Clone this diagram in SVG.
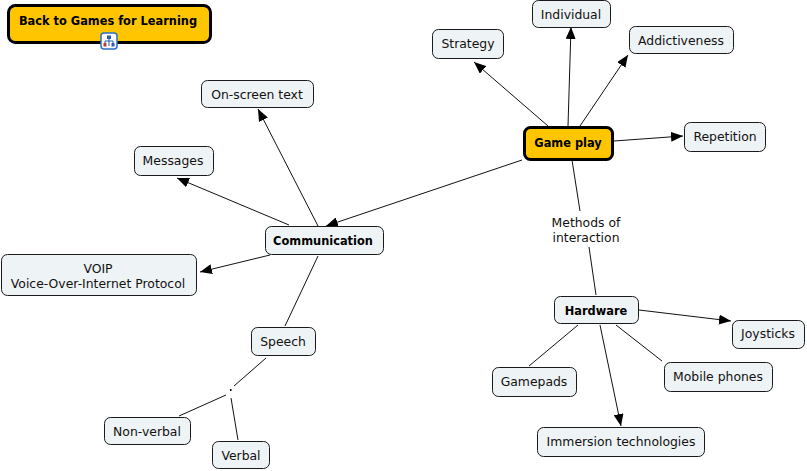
<svg xmlns="http://www.w3.org/2000/svg" width="807" height="471" viewBox="0 0 807 471">
<defs>
<style>
.n{fill:#eef3f5;stroke:#1a1a1a;stroke-width:1}
.k{fill:#ffc600;stroke:#000;stroke-width:3}
text{font-family:"DejaVu Sans",Verdana,sans-serif;font-size:12.4px;fill:#111;text-anchor:middle}
.b{font-weight:bold;fill:#000;font-size:11.4px}
.c line,.c path{stroke:#111;stroke-width:1;fill:none}
</style>
<marker id="a" viewBox="0 0 12 10" refX="12" refY="5" markerWidth="12" markerHeight="10" markerUnits="userSpaceOnUse" orient="auto">
<path d="M0,0 L12,5 L0,10 Z" fill="#000"/>
</marker>
</defs>
<rect width="807" height="471" fill="#fff"/>
<g class="c" id="connectors">
<line x1="548" y1="126" x2="474" y2="62" marker-end="url(#a)"/>
<line x1="568" y1="126" x2="571" y2="27" marker-end="url(#a)"/>
<line x1="580" y1="126" x2="628" y2="55" marker-end="url(#a)"/>
<line x1="614" y1="141" x2="683" y2="136" marker-end="url(#a)"/>
<line x1="522" y1="160" x2="326" y2="226" marker-end="url(#a)"/>
<line x1="572" y1="160" x2="580" y2="211"/>
<line x1="589" y1="247" x2="596" y2="295"/>
<line x1="318" y1="226" x2="258" y2="109" marker-end="url(#a)"/>
<line x1="289" y1="225" x2="177" y2="178" marker-end="url(#a)"/>
<line x1="270" y1="255" x2="200" y2="272" marker-end="url(#a)"/>
<line x1="318" y1="256" x2="285" y2="326"/>
<line x1="266" y1="358" x2="234" y2="386"/>
<line x1="226" y1="395" x2="179" y2="416"/>
<line x1="231" y1="398" x2="238" y2="440"/>
<rect x="230" y="389" width="1.5" height="2" fill="#000"/>
<line x1="639" y1="310" x2="731" y2="321" marker-end="url(#a)"/>
<line x1="578" y1="325" x2="529" y2="366"/>
<line x1="616" y1="325" x2="662" y2="361"/>
<line x1="600" y1="325" x2="621" y2="426" marker-end="url(#a)"/>
</g>
<g id="back">
<rect class="k" x="8.5" y="5.5" width="202" height="37" rx="7"/>
<text class="b" x="108" y="25">Back to Games for Learning</text>
<g id="icon">
<rect x="101" y="33" width="16" height="16" rx="3" fill="#fff" stroke="#2a6fc9" stroke-width="1.5"/>
<rect x="107" y="35.5" width="4" height="3.5" fill="#2a5db0"/>
<path d="M109 39 V41 M105 41 H113 M105 41 V43 M113 41 V43 M109 41 V46" stroke="#2a5db0" stroke-width="1"/>
<rect x="103.5" y="43" width="3" height="3.5" fill="#c0392b"/>
<rect x="111.5" y="43" width="3" height="3.5" fill="#2a5db0"/>
</g>
</g>
<g id="gameplay">
<rect class="k" x="524.5" y="127.5" width="88" height="32" rx="6"/>
<text class="b" x="568" y="147">Game play</text>
</g>
<g id="strategy"><rect class="n" x="432.5" y="29.5" width="71" height="29" rx="6"/><text x="468" y="48">Strategy</text></g>
<g id="individual"><rect class="n" x="532.5" y="0.5" width="78" height="27" rx="6"/><text x="571" y="19">Individual</text></g>
<g id="addictiveness"><rect class="n" x="629.5" y="26.5" width="104" height="27" rx="6"/><text x="681" y="45">Addictiveness</text></g>
<g id="repetition"><rect class="n" x="684.5" y="122.5" width="81" height="29" rx="6"/><text x="725" y="141">Repetition</text></g>
<g id="onscreen"><rect class="n" x="201.5" y="80.5" width="112" height="27" rx="6"/><text x="257" y="99">On-screen text</text></g>
<g id="messages"><rect class="n" x="134.5" y="146.5" width="79" height="29" rx="6"/><text x="173" y="165">Messages</text></g>
<g id="communication"><rect class="n" x="265.5" y="226.5" width="118" height="28" rx="6"/><text class="b" x="323" y="245">Communication</text></g>
<g id="voip"><rect class="n" x="1.5" y="254.5" width="195" height="41" rx="6"/><text x="98" y="273">VOIP</text><text x="98" y="288">Voice-Over-Internet Protocol</text></g>
<g id="speech"><rect class="n" x="251.5" y="327.5" width="64" height="28" rx="6"/><text x="283" y="346">Speech</text></g>
<g id="nonverbal"><rect class="n" x="104.5" y="417.5" width="86" height="27" rx="6"/><text x="147" y="436">Non-verbal</text></g>
<g id="verbal"><rect class="n" x="212.5" y="441.5" width="57" height="27" rx="6"/><text x="241" y="460">Verbal</text></g>
<g id="methods"><text x="586" y="227">Methods of</text><text x="586" y="242">interaction</text></g>
<g id="hardware"><rect class="n" x="554.5" y="296.5" width="84" height="27" rx="6"/><text class="b" x="596" y="315">Hardware</text></g>
<g id="joysticks"><rect class="n" x="732.5" y="320.5" width="72" height="28" rx="6"/><text x="768" y="338">Joysticks</text></g>
<g id="gamepads"><rect class="n" x="492.5" y="367.5" width="84" height="29" rx="6"/><text x="534" y="386">Gamepads</text></g>
<g id="mobile"><rect class="n" x="664.5" y="362.5" width="108" height="29" rx="6"/><text x="718" y="381">Mobile phones</text></g>
<g id="immersion"><rect class="n" x="537.5" y="427.5" width="167" height="29" rx="6"/><text x="621" y="446">Immersion technologies</text></g>
</svg>
